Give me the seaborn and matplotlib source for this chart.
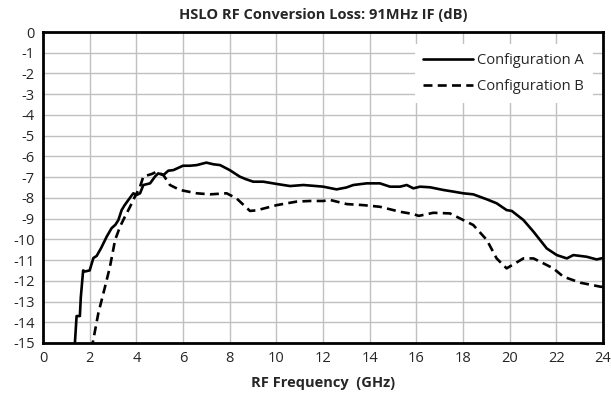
import matplotlib
matplotlib.use("Agg")
import matplotlib.pyplot as plt
import seaborn as sns
import pandas as pd

title = "HSLO RF Conversion Loss: 91MHz IF (dB)"
xlabel = "RF Frequency  (GHz)"
series_names = ["Configuration A", "Configuration B"]

freq_a = [1.35, 1.44, 1.58, 1.62, 1.72, 1.80, 2.00, 2.16, 2.30, 2.50,
          2.73, 2.94, 3.10, 3.23, 3.37, 3.50, 3.66, 3.87, 4.01, 4.16,
          4.30, 4.59, 4.80, 4.94, 5.16, 5.37, 5.59, 6.00, 6.30, 6.59,
          7.00, 7.30, 7.59, 8.00, 8.44, 8.70, 9.01, 9.44, 10.02, 10.59,
          11.16, 11.60, 12.01, 12.58, 13.00, 13.30, 13.87, 14.44, 14.87, 15.30,
          15.59, 15.87, 16.16, 16.59, 17.16, 17.60, 18.01, 18.44, 19.02, 19.44,
          19.87, 20.09, 20.59, 21.02, 21.59, 22.02, 22.45, 22.73, 23.30, 23.73,
          24.00]
loss_a = [-15.3, -13.7, -13.7, -12.8, -11.5, -11.55, -11.5, -10.9, -10.8, -10.4,
          -9.87, -9.46, -9.3, -9.07, -8.59, -8.35, -8.1, -7.78, -7.86, -7.78,
          -7.38, -7.3, -6.97, -6.82, -6.9, -6.69, -6.66, -6.45, -6.45, -6.42,
          -6.3, -6.38, -6.42, -6.66, -6.98, -7.1, -7.22, -7.22, -7.33, -7.43,
          -7.38, -7.42, -7.46, -7.59, -7.5, -7.38, -7.3, -7.3, -7.46, -7.46,
          -7.38, -7.54, -7.46, -7.49, -7.62, -7.7, -7.78, -7.83, -8.07, -8.26,
          -8.59, -8.63, -9.07, -9.63, -10.44, -10.76, -10.92, -10.76, -10.84, -10.97,
          -10.9]

freq_b = [2.08, 2.13, 2.37, 2.66, 2.87, 3.09, 3.30, 3.51, 3.73, 3.94,
          4.16, 4.30, 4.66, 4.87, 5.16, 5.44, 5.87, 6.59, 7.16, 7.87,
          8.29, 8.87, 9.16, 10.02, 10.87, 11.44, 12.01, 12.30, 13.02, 13.73,
          14.44, 15.30, 15.87, 16.10, 16.73, 17.44, 17.87, 18.44, 19.02, 19.44,
          19.87, 20.23, 20.59, 21.02, 21.45, 21.87, 22.30, 23.02, 23.87, 24.00]
loss_b = [-15.3, -15.0, -13.57, -12.28, -11.32, -10.03, -9.39, -8.91, -8.43, -7.94,
          -7.46, -6.97, -6.85, -6.74, -6.9, -7.38, -7.62, -7.78, -7.83, -7.78,
          -8.02, -8.63, -8.6, -8.35, -8.18, -8.15, -8.15, -8.1, -8.3, -8.35,
          -8.43, -8.67, -8.78, -8.87, -8.72, -8.75, -8.99, -9.31, -10.03, -10.92,
          -11.4, -11.16, -10.92, -10.92, -11.16, -11.4, -11.8, -12.09, -12.28, -12.3]

x_ticks = list(range(0, 25, 2))
y_ticks = list(range(-15, 1, 1))

df = pd.concat([
    pd.DataFrame({"freq": freq_a, "loss": loss_a, "series": series_names[0]}),
    pd.DataFrame({"freq": freq_b, "loss": loss_b, "series": series_names[1]}),
], ignore_index=True)

sns.set_style("white")
plt.rcParams["font.family"] = ["Open Sans", "DejaVu Sans"]

fig = plt.figure(figsize=(6.11, 4.01), dpi=100)
ax = fig.add_axes([43 / 611, 1 - 343 / 401, 560 / 611, 311 / 401])

sns.lineplot(data=df, x="freq", y="loss", hue="series", style="series",
             palette=["black", "black"],
             dashes={series_names[0]: "", series_names[1]: (3.4, 2.0)},
             estimator=None, sort=False, linewidth=1.9, ax=ax)

ax.set_xlim(0, 24)
ax.set_ylim(-15, 0)
ax.set_xticks(x_ticks)
ax.set_yticks(y_ticks)
ax.set_xticklabels([str(v) for v in x_ticks], fontsize=10.5)
ax.set_yticklabels([str(v) for v in y_ticks], fontsize=10.5)
ax.tick_params(axis="both", length=0, pad=6)
ax.grid(True, color="#c0c0c0", linewidth=1.0)
ax.set_axisbelow(True)
for s in ax.spines.values():
    s.set_color("black")
    s.set_linewidth(2.0)

ax.set_title(title, fontsize=10.5, fontweight="bold", pad=9)
ax.set_xlabel(xlabel, fontsize=10.5, fontweight="bold", labelpad=7)
ax.set_ylabel("")

leg = ax.legend(loc="upper right", fontsize=10.5, frameon=True, fancybox=False,
                handlelength=3.4, handletextpad=0.3, borderpad=0.6,
                labelspacing=0.8, bbox_to_anchor=(0.995, 0.985))
leg.get_frame().set_edgecolor("none")
leg.get_frame().set_facecolor("white")
leg.get_frame().set_alpha(1.0)

fig.savefig("out.png", dpi=100)
